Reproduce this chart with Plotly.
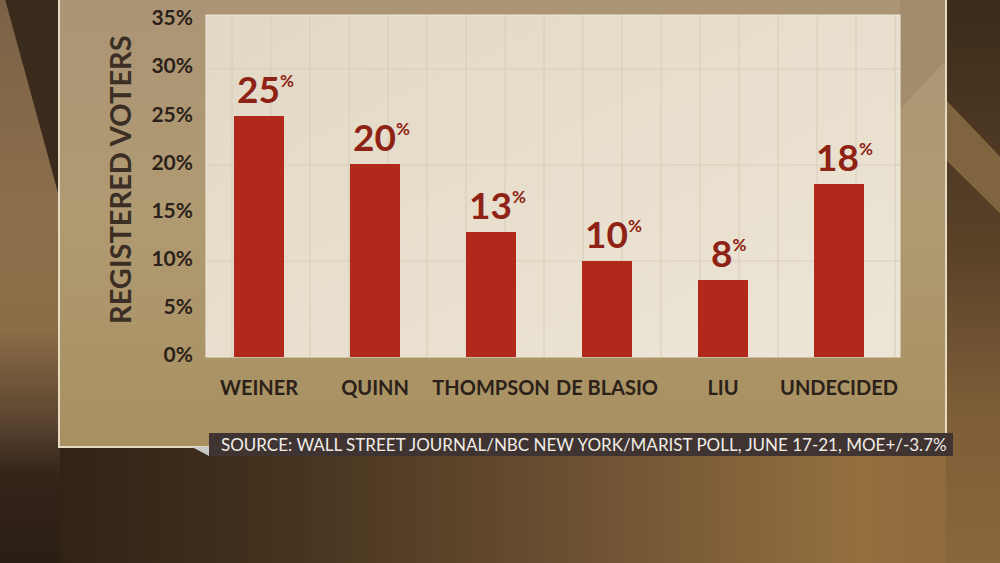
import base64
import plotly.graph_objects as go

categories = ["WEINER", "QUINN", "THOMPSON", "DE BLASIO", "LIU", "UNDECIDED"]
values = [25, 20, 13, 10, 8, 18]
y_ticks = [0, 5, 10, 15, 20, 25, 30, 35]
y_title = "REGISTERED VOTERS"
source_text = "SOURCE: WALL STREET JOURNAL/NBC NEW YORK/MARIST POLL, JUNE 17-21, MOE+/-3.7%"

W, H = 1000, 563
L, R, T, B = 206, 100, 15, 206
PW, PH = W - L - R, H - T - B
EXT = 12  # extra background bleed around the figure

def px(x):
    return (x - L) / PW

def py(y):
    return (H - B - y) / PH

# decorative background as SVG
vgrid = "".join(
    f"<line x1='{x}' y1='15' x2='{x}' y2='357' stroke='#d6ccb9' stroke-width='1'/>"
    for x in range(232, 900, 39)
)
hgrid = "".join(
    f"<line x1='206' y1='{y}' x2='900' y2='{y}' stroke='#d8cebc' stroke-width='1'/>"
    for y in (69, 165, 261)
)
svg = f"""<svg xmlns='http://www.w3.org/2000/svg' width='{W + 2*EXT}' height='{H + 2*EXT}' viewBox='{-EXT} {-EXT} {W + 2*EXT} {H + 2*EXT}' preserveAspectRatio='none'>
<defs>
<linearGradient id='bot' x1='0' y1='0' x2='1' y2='0'>
<stop offset='0' stop-color='#2a1d13'/><stop offset='0.3' stop-color='#46331f'/>
<stop offset='0.6' stop-color='#705334'/><stop offset='0.85' stop-color='#94703f'/>
<stop offset='1' stop-color='#8a663a'/></linearGradient>
<linearGradient id='lft' x1='0' y1='0' x2='0' y2='1'>
<stop offset='0' stop-color='#7a6146'/><stop offset='0.36' stop-color='#8b6e4b'/>
<stop offset='0.58' stop-color='#8c6d47'/><stop offset='0.74' stop-color='#5a4430'/>
<stop offset='0.83' stop-color='#33241a'/><stop offset='1' stop-color='#2a1d13'/></linearGradient>
<linearGradient id='rgt' x1='0' y1='0' x2='0' y2='1'>
<stop offset='0' stop-color='#3a2a1a'/><stop offset='0.45' stop-color='#5a4228'/>
<stop offset='0.72' stop-color='#7e5e38'/><stop offset='1' stop-color='#8a673c'/></linearGradient>
<linearGradient id='pan' x1='0' y1='0' x2='0' y2='1'>
<stop offset='0' stop-color='#aa9476'/><stop offset='0.5' stop-color='#b09a72'/>
<stop offset='1' stop-color='#a89060'/></linearGradient>
<linearGradient id='plt' x1='0' y1='0' x2='1' y2='1'>
<stop offset='0' stop-color='#e2d8c5'/><stop offset='1' stop-color='#ede5d6'/></linearGradient>
</defs>
<rect x='{-EXT}' y='{-EXT}' width='{W + 2*EXT}' height='{H + 2*EXT}' fill='url(#bot)'/>
<rect x='{-EXT}' y='{-EXT}' width='{60 + EXT}' height='{H + 2*EXT}' fill='url(#lft)'/>
<polygon points='2,{-EXT} 60,{-EXT} 60,200' fill='#3a2b1c'/>
<rect x='946' y='{-EXT}' width='{54 + EXT}' height='{H + 2*EXT}' fill='url(#rgt)'/>
<polygon points='946,100 {W + EXT},{157 + EXT} {W + EXT},{213 + EXT} 946,160' fill='#8a6c45' opacity='0.85'/>
<rect x='59' y='{-2*EXT}' width='887' height='{447 + 2*EXT}' fill='url(#pan)'/>
<polygon points='900,{-EXT} 946,{-EXT} 946,60 900,110' fill='#8d7858' opacity='0.3'/>
<rect x='59' y='{-2*EXT}' width='887' height='{447 + 2*EXT}' fill='none' stroke='#e6dbc0' stroke-width='2'/>
<rect x='206' y='15' width='694' height='342' fill='url(#plt)' stroke='#efe8da' stroke-width='1'/>
{vgrid}{hgrid}
<polygon points='192,447 209,447 209,456' fill='#c9c9c6'/>
<rect x='209' y='433' width='744' height='23' fill='#3f3431'/>
</svg>"""
src = "data:image/svg+xml;base64," + base64.b64encode(svg.encode()).decode()

font_family = "Lato, 'Open Sans', sans-serif"
dark = "#2b2118"

fig = go.Figure()
fig.add_trace(go.Bar(
    x=list(range(len(categories))),
    y=values,
    width=0.431,
    marker=dict(color="#b1291a", line=dict(width=0)),
    hoverinfo="skip",
))

annotations = []
for i, v in enumerate(values):
    annotations.append(dict(
        x=i, y=v, xref="x", yref="y",
        text=f"{v}<sup><span style='font-size:17px'>%</span></sup>",
        showarrow=False, yanchor="bottom", xanchor="center",
        xshift=6, yshift=3,
        font=dict(family=font_family, size=37, color="#8e2214", weight="bold"),
    ))
annotations.append(dict(
    x=px(120), y=py(180), xref="paper", yref="paper",
    text=y_title, textangle=-90, showarrow=False,
    xanchor="center", yanchor="middle",
    font=dict(family=font_family, size=29, color="#3a2e25", weight="bold"),
))
annotations.append(dict(
    x=px(219), y=py(444.5), xref="paper", yref="paper",
    text=source_text, showarrow=False, xanchor="left", yanchor="middle",
    font=dict(family=font_family, size=17, color="#f1ede6"),
))

fig.update_layout(
    width=W, height=H,
    margin=dict(l=L, r=R, t=T, b=B, pad=0, autoexpand=False),
    paper_bgcolor="#a99373",
    plot_bgcolor="rgba(0,0,0,0)",
    showlegend=False,
    bargap=0,
    annotations=annotations,
    images=[dict(
        source=src, xref="paper", yref="paper",
        x=px(-EXT), y=py(-EXT), sizex=(W + 2 * EXT) / PW, sizey=(H + 2 * EXT) / PH,
        xanchor="left", yanchor="top", sizing="stretch", layer="below",
    )],
    xaxis=dict(
        range=[-0.457, 5.526],
        tickmode="array",
        tickvals=list(range(len(categories))),
        ticktext=categories,
        tickangle=0,
        automargin=False,
        showgrid=False, zeroline=False, showline=False,
        ticks="", ticklabelstandoff=17,
        tickfont=dict(family=font_family, size=20, color=dark, weight="bold"),
        fixedrange=True,
    ),
    yaxis=dict(
        range=[0, 35.5],
        tickmode="array",
        tickvals=y_ticks,
        ticktext=[f"{t}%" for t in y_ticks],
        automargin=False,
        showgrid=False, zeroline=False, showline=False,
        ticks="", ticklabelstandoff=12, ticklabelshift=-2,
        tickfont=dict(family=font_family, size=21, color=dark, weight="bold"),
        fixedrange=True,
    ),
)

fig.write_html(
    "out.html",
    config={"displayModeBar": False},
    post_script="document.body.style.margin='0px';document.body.style.overflow='hidden';",
)
